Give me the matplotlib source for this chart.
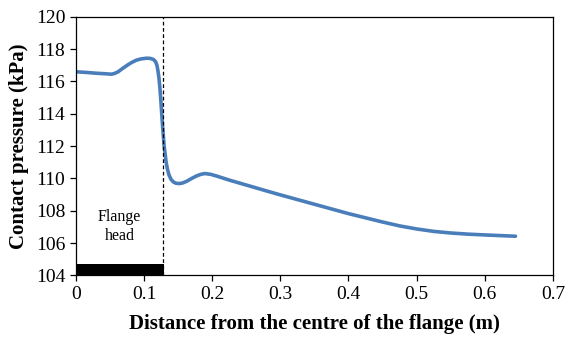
import numpy as np
import matplotlib.pyplot as plt

plt.rcParams['font.family'] = ['Liberation Serif', 'DejaVu Serif']

# distance from flange centre (m) and contact pressure (kPa)
dist = [0, 0.015, 0.03, 0.042, 0.0525, 0.057, 0.062, 0.069, 0.077, 0.083, 0.089,
        0.096, 0.104, 0.109, 0.114, 0.117, 0.119, 0.1205, 0.122, 0.1235, 0.1245,
        0.1268, 0.1294, 0.1324, 0.1345, 0.1368, 0.1395, 0.143, 0.147, 0.152, 0.157,
        0.163, 0.17, 0.1775, 0.184, 0.1897, 0.198, 0.207, 0.2255, 0.25, 0.285,
        0.3, 0.35, 0.4, 0.45, 0.475, 0.5, 0.525, 0.55, 0.575, 0.6, 0.645]
pressure = [116.6, 116.56, 116.51, 116.48, 116.45, 116.5, 116.6, 116.82, 117.05, 117.2,
            117.32, 117.4, 117.44, 117.43, 117.36, 117.22, 117.0, 116.65, 116.19, 115.5,
            114.95, 113.5, 112.06, 111.02, 110.55, 110.2, 109.95, 109.78, 109.7, 109.68,
            109.72, 109.83, 110.0, 110.16, 110.26, 110.3, 110.25, 110.14, 109.89, 109.59,
            109.16, 108.98, 108.4, 107.82, 107.3, 107.06, 106.87, 106.72, 106.62, 106.55,
            106.5, 106.42]

flange_edge = 0.128
flange_bar_end = 0.13
flange_bar_height = 0.7

fig = plt.figure(figsize=(5.66, 3.37), dpi=100)
ax = fig.add_axes([0.134, 0.183, 0.843, 0.767])

ax.plot(dist, pressure, color='#4A7EBB', linewidth=2.6, solid_capstyle='round',
        solid_joinstyle='round')
ax.axvline(flange_edge, color='black', linestyle='--', linewidth=0.9, dashes=(3, 2))
ax.bar(0, flange_bar_height, width=flange_bar_end, bottom=104, align='edge',
       color='black', zorder=3)
ax.text(0.064, 107.0, 'Flange\nhead', ha='center', va='center', fontsize=11.5,
        linespacing=1.25)

ax.set_xlim(0, 0.7)
ax.set_ylim(104, 120)
ax.set_xticks(np.arange(0, 0.71, 0.1))
ax.set_xticklabels(['0', '0.1', '0.2', '0.3', '0.4', '0.5', '0.6', '0.7'])
ax.set_yticks(np.arange(104, 121, 2))
ax.tick_params(labelsize=14, direction='out', length=4, width=0.9)
for s in ax.spines.values():
    s.set_linewidth(0.9)

ax.set_xlabel('Distance from the centre of the flange (m)', fontsize=15,
              fontweight='bold', labelpad=8)
ax.set_ylabel('Contact pressure (kPa)', fontsize=15, fontweight='bold', labelpad=5)

fig.savefig('out.png', dpi=100)
